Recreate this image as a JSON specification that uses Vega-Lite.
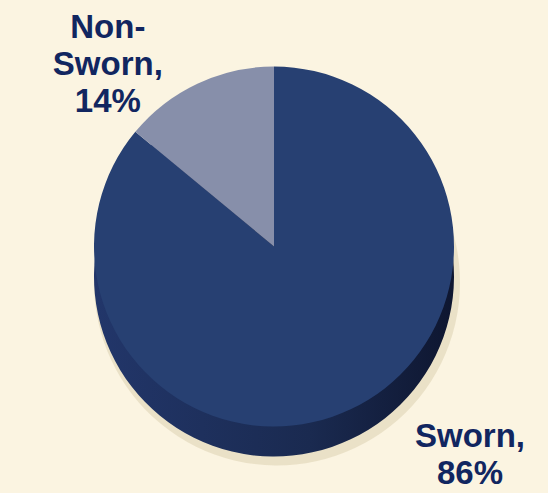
{
  "$schema": "https://vega.github.io/schema/vega-lite/v6.json",
  "width": 548,
  "height": 493,
  "autosize": "none",
  "padding": 0,
  "background": "#FBF4E1",
  "view": {"stroke": null},
  "data": {
    "values": [
      {"category": "Sworn", "value": 86, "label": ["Sworn,", "86%"]},
      {"category": "Non-Sworn", "value": 14, "label": ["Non-", "Sworn,", "14%"]}
    ]
  },
  "encoding": {
    "theta": {"field": "value", "type": "quantitative", "stack": true},
    "order": {"field": "value", "type": "quantitative", "sort": "descending"}
  },
  "layer": [
    {
      "mark": {"type": "arc", "outerRadius": 183, "color": "#E6DCC1", "opacity": 0.8, "yOffset": 36, "xOffset": 3},
      "encoding": {}
    },
    {
      "mark": {
        "type": "arc",
        "outerRadius": 180,
        "yOffset": 30,
        "color": {
          "gradient": "linear",
          "x1": 0, "x2": 1, "y1": 0, "y2": 0,
          "stops": [
            {"offset": 0, "color": "#22366A"},
            {"offset": 0.6, "color": "#1A2A50"},
            {"offset": 1, "color": "#0E1630"}
          ]
        }
      },
      "encoding": {}
    },
    {
      "mark": {"type": "arc", "outerRadius": 180},
      "encoding": {
        "color": {
          "field": "category",
          "type": "nominal",
          "scale": {"domain": ["Sworn", "Non-Sworn"], "range": ["#274072", "#878FAA"]},
          "legend": null
        }
      }
    },
    {
      "mark": {
        "type": "text",
        "radius": 240,
        "xOffset": -64,
        "yOffset": -1,
        "font": "Liberation Sans",
        "fontSize": 33,
        "fontWeight": "bold",
        "lineHeight": 37,
        "align": "center",
        "baseline": "middle",
        "color": "#112660"
      },
      "encoding": {
        "text": {"condition": {"test": "datum.category === 'Non-Sworn'", "field": "label"}, "value": ""}
      }
    },
    {
      "mark": {
        "type": "text",
        "radius": 270,
        "xOffset": 81,
        "yOffset": -54,
        "font": "Liberation Sans",
        "fontSize": 33,
        "fontWeight": "bold",
        "lineHeight": 37,
        "align": "center",
        "baseline": "middle",
        "color": "#112660"
      },
      "encoding": {
        "text": {"condition": {"test": "datum.category === 'Sworn'", "field": "label"}, "value": ""}
      }
    }
  ]
}
